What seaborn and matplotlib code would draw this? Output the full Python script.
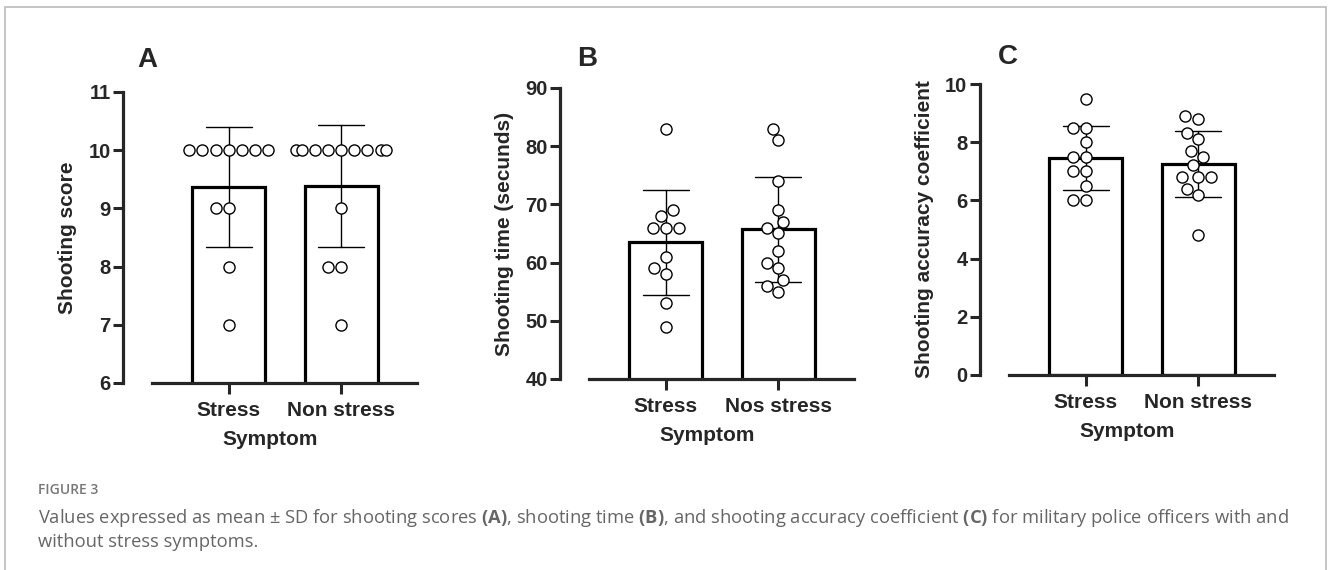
import seaborn as sns
import matplotlib.pyplot as plt
import pandas as pd
from matplotlib.patches import Rectangle

# data
groups = ['Stress', 'Non stress']
labels_a = ['Stress', 'Non stress']
labels_b = ['Stress', 'Nos stress']
labels_c = ['Stress', 'Non stress']

score_stress = [10, 10, 10, 10, 10, 10, 10, 9, 9, 8, 7]
score_nonstress = [10, 10, 10, 10, 10, 10, 10, 10, 10, 9, 8, 8, 7]

time_stress = [83, 69, 68, 66, 66, 66, 61, 59, 58, 53, 49]
time_nonstress = [83, 81, 74, 69, 67, 66, 65, 62, 60, 59, 57, 56, 55]

coef_stress = [9.5, 8.5, 8.5, 8.0, 7.5, 7.5, 7.0, 7.0, 6.5, 6.0, 6.0]
coef_nonstress = [8.9, 8.8, 8.3, 8.1, 7.7, 7.5, 7.2, 6.8, 6.8, 6.8, 6.4, 6.2, 4.8]

sns.set_style('ticks')
plt.rcParams['font.family'] = ['Liberation Sans', 'DejaVu Sans']
plt.rcParams['font.weight'] = 'bold'
plt.rcParams['axes.labelweight'] = 'bold'
plt.rcParams['mathtext.fontset'] = 'custom'
plt.rcParams['mathtext.rm'] = 'Open Sans'
plt.rcParams['mathtext.bf'] = 'Open Sans:bold'

fig = plt.figure(figsize=(13.28, 5.70), dpi=100)
fig.patch.set_facecolor('white')


def make_df(a, b):
    return pd.DataFrame({'group': [groups[0]] * len(a) + [groups[1]] * len(b),
                         'value': a + b})


def panel(rect, a, b, ylim, yticks, ylabel, xlabels, letter, letter_xy):
    ax = fig.add_axes(rect)
    df = make_df(a, b)
    sns.barplot(data=df, x='group', y='value', order=groups, errorbar='sd',
                color='white', saturation=1, width=0.65, capsize=0.41,
                edgecolor='black', linewidth=2.3,
                err_kws={'color': 'black', 'linewidth': 1.0}, ax=ax)
    sns.swarmplot(data=df, x='group', y='value', order=groups, color='white',
                  edgecolor='black', linewidth=1.0, size=8, warn_thresh=1, ax=ax)
    ax.set_xlim(-0.94, 1.675)
    ax.set_ylim(*ylim)
    ax.set_yticks(yticks, labels=[str(v) for v in yticks],
                  fontsize=14.5, fontweight='bold')
    ax.set_xticks([0, 1], labels=xlabels, fontsize=15, fontweight='bold')
    ax.tick_params(axis='y', length=7, width=2.2, pad=2)
    ax.tick_params(axis='x', length=8, width=2.2, pad=5)
    sns.despine(ax=ax)
    ax.spines['left'].set_linewidth(2.3)
    ax.spines['bottom'].set_linewidth(2.3)
    ax.spines['bottom'].set_bounds(-0.68, 1.675)
    ax.set_xlabel('Symptom', fontsize=15, fontweight='bold', labelpad=7)
    ax.set_ylabel(ylabel, fontsize=15, fontweight='bold', labelpad=8)
    ax.patch.set_alpha(0)
    fig.text(letter_xy[0] / 1328, 1 - letter_xy[1] / 570, letter,
             fontsize=20, fontweight='bold', va='baseline', ha='left')
    return ax


panel([123 / 1328, 187 / 570, 0.2215, 291 / 570], score_stress, score_nonstress,
      (6, 11), [6, 7, 8, 9, 10, 11], 'Shooting score', labels_a, 'A', (137, 67))
panel([560 / 1328, 191 / 570, 0.2215, 291 / 570], time_stress, time_nonstress,
      (40, 90), [40, 50, 60, 70, 80, 90], 'Shooting time (secunds)', labels_b, 'B', (577, 66))
panel([980 / 1328, 195 / 570, 0.2215, 291 / 570], coef_stress, coef_nonstress,
      (0, 10), [0, 2, 4, 6, 8, 10], 'Shooting accuracy coefficient', labels_c, 'C', (998, 64))

# caption
fig.text(38 / 1328, 1 - 494 / 570, 'FIGURE 3', fontsize=10, color='#777777',
         fontfamily='Open Sans', fontweight='semibold', va='baseline')
line1 = ('Values expressed as mean \u00b1 SD for shooting scores $\\mathbf{(A)}$, '
         'shooting time $\\mathbf{(B)}$, and shooting accuracy coefficient '
         '$\\mathbf{(C)}$ for military police officers with and')
line2 = 'without stress symptoms.'
fig.text(38 / 1328, 1 - 523 / 570, line1, fontsize=13.2, color='#666666',
         fontfamily='Open Sans', fontweight='normal', va='baseline')
fig.text(38 / 1328, 1 - 547 / 570, line2, fontsize=13.2, color='#666666',
         fontfamily='Open Sans', fontweight='normal', va='baseline')

# light frame around the figure
fig.patches.append(Rectangle((5 / 1328, -0.05), 1321 / 1328, 1.05 - 7 / 570,
                             transform=fig.transFigure, fill=False,
                             edgecolor='#bbbbbb', linewidth=1.2))

fig.savefig('out.png', dpi=100)
